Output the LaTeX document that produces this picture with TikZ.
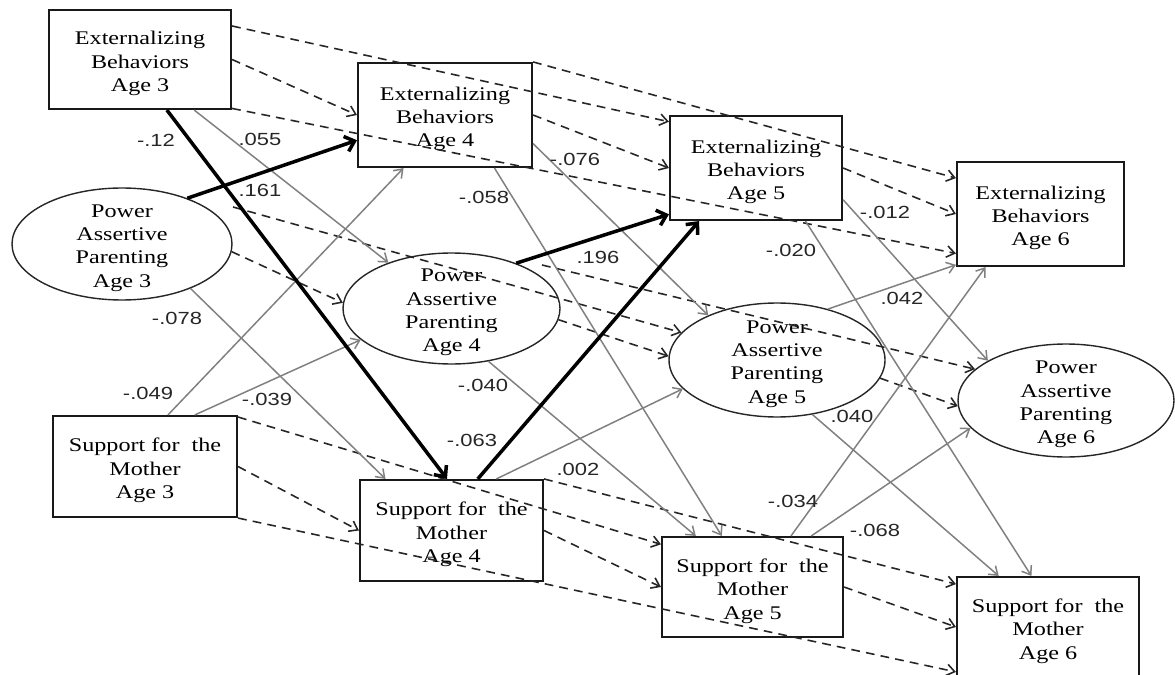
\documentclass[tikz,border=0pt]{standalone}
\usepackage{fontspec}
\setmainfont{Liberation Serif}
\newfontfamily\boxfont[FakeStretch=1.25]{Liberation Serif}
\newfontfamily\coeffont[FakeStretch=1.25]{Liberation Sans}
\usetikzlibrary{arrows.meta,shapes.geometric}

\begin{document}
\begin{tikzpicture}[x=0.02cm,y=-0.02cm,
  sz/.style 2 args={minimum width=#1*0.02cm, minimum height=#2*0.02cm},
  vtext/.style={font=\boxfont\fontsize{11}{13.3}\selectfont, align=center,
    inner sep=0pt, yshift=-0.08cm},
  varbox/.style={draw=black!90, line width=1.2pt, rectangle, inner sep=0pt},
  pap/.style={draw=black!85, line width=0.8pt, ellipse, inner sep=0pt},
  coef/.style={font=\coeffont\fontsize{10}{12}\selectfont, inner sep=0pt, text=black!85},
  stab/.style={draw=black!85, line width=0.9pt, dash pattern=on 5pt off 3.5pt,
    -{Straight Barb[length=4.5pt,width=6.5pt]}},
  lag/.style={draw=black!50, line width=0.85pt,
    -{Straight Barb[length=4.5pt,width=6.5pt]}},
  sig/.style={draw=black, line width=2pt,
    -{Straight Barb[length=5pt,width=9pt]}},
]
\useasboundingbox (0,0) rectangle (1175,675);

% externalizing behaviors
\node[varbox, sz={182}{99},  label={[vtext]center:Externalizing\\Behaviors\\Age 3}] (e3) at (140,59.5) {};
\node[varbox, sz={174}{104}, label={[vtext]center:Externalizing\\Behaviors\\Age 4}] (e4) at (445,115) {};
\node[varbox, sz={172}{104}, label={[vtext]center:Externalizing\\Behaviors\\Age 5}] (e5) at (756,168) {};
\node[varbox, sz={167}{104}, label={[vtext]center:Externalizing\\Behaviors\\Age 6}] (e6) at (1040.5,214) {};

% power assertive parenting
\node[pap, sz={220}{112}, label={[vtext]center:Power\\Assertive\\Parenting\\Age 3}] (p3) at (122,244) {};
\node[pap, sz={217}{111}, label={[vtext]center:Power\\Assertive\\Parenting\\Age 4}] (p4) at (451.5,308.5) {};
\node[pap, sz={216}{114}, label={[vtext]center:Power\\Assertive\\Parenting\\Age 5}] (p5) at (777,360) {};
\node[pap, sz={216}{113}, label={[vtext]center:Power\\Assertive\\Parenting\\Age 6}] (p6) at (1066,400.5) {};

% support for the mother
\node[varbox, sz={184}{101}, label={[vtext]center:Support for~ the\\Mother\\Age 3}] (s3) at (145,466.5) {};
\node[varbox, sz={183}{101}, label={[vtext]center:Support for~ the\\Mother\\Age 4}] (s4) at (451.5,530.5) {};
\node[varbox, sz={181}{100}, label={[vtext]center:Support for~ the\\Mother\\Age 5}] (s5) at (752.5,587) {};
\node[varbox, sz={182}{100}, label={[vtext]center:Support for~ the\\Mother\\Age 6}] (s6) at (1048,627) {};

% stability paths
\draw[stab] (e3.east) -- (e4.west);
\draw[stab] (e3.20) -- (e5.152);
\draw[stab] (e3.-28) -- (e6.205);
\draw[stab] (e4.east) -- (e5.west);
\draw[stab] (e4.north east) -- (e6.157);
\draw[stab] (e5.east) -- (e6.west);

\coordinate (p3a) at ([shift={(111,-37)}]p3.center);
\coordinate (p4a) at ([shift={(90.5,-43.5)}]p4.center);
\draw[stab] (p3.-4) -- (p4.177);
\draw[stab] (p3a) -- (p5.164);
\draw[stab] (p4.-6) -- (p5.178);
\draw[stab] (p4a) -- (p6.161);
\draw[stab] (p5.-10) -- (p6.183);

\draw[stab] (s3.east) -- (s4.west);
\draw[stab] (s3.28) -- (s5.155);
\draw[stab] (s3.south east) -- (s6.206);
\draw[stab] (s4.east) -- (s5.west);
\draw[stab] (s4.north east) -- (s6.155);
\draw[stab] (s5.east) -- (s6.west);

% cross-lagged paths
\draw[lag] (e3.-43) -- (p4.144);
\draw[lag] (p3.-33) -- (s4.142);
\draw[lag] (s3.66) -- (e4.232);
\draw[lag] (s3.46) -- (p4.199);
\draw[lag] (e4.-18) -- (p5.147);
\draw[lag] (e4.-47) -- (s5.121);
\draw[lag] (p4.-55) -- (s5.138);
\draw[lag] (s4.49) -- (p5.197);
\draw[lag] (e5.-20) -- (p6.153);
\draw[lag] (e5.-47) -- (s6.108);
\draw[lag] (p5.45) -- (e6.211);
\draw[lag] (p5.-57) -- (s6.134);
\draw[lag] (s5.53) -- (e6.224);
\draw[lag] (s5.41) -- (p6.196);

% significant paths
\draw[sig] (p3.35) -- (e4.196);
\draw[sig] (e3.-62) -- (s4.95);
\draw[sig] (p4.35) -- (e5.208);
\draw[sig] (s4.63) -- (e5.223);

% coefficients
\node[coef] (c01) at (156,140) {-.12};
\node[coef] (c02) at (260,139) {.055};
\node[coef] (c03) at (260,190) {.161};
\node[coef] (c04) at (177,318) {-.078};
\node[coef] (c05) at (148,393) {-.049};
\node[coef] (c06) at (267,399) {-.039};
\node[coef] (c07) at (484,197) {-.058};
\node[coef] (c08) at (575,159) {-.076};
\node[coef] (c09) at (598,257) {.196};
\node[coef] (c10) at (483,385) {-.040};
\node[coef] (c11) at (472,440) {-.063};
\node[coef] (c12) at (578,469) {.002};
\node[coef] (c13) at (793,501) {-.034};
\node[coef] (c14) at (875,530) {-.068};
\node[coef] (c15) at (885,212) {-.012};
\node[coef] (c16) at (791,250) {-.020};
\node[coef] (c17) at (902,298) {.042};
\node[coef] (c18) at (852,416) {.040};
\end{tikzpicture}
\end{document}
